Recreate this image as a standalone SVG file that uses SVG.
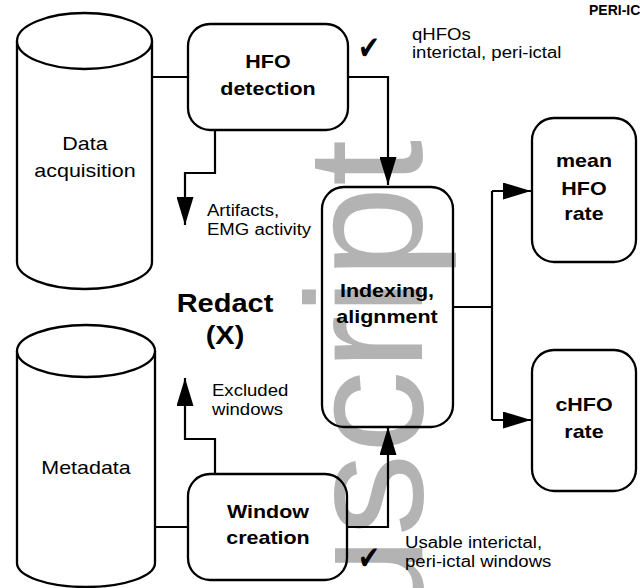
<svg xmlns="http://www.w3.org/2000/svg" width="640" height="588" viewBox="0 0 640 588">
  <style>
    .shape { fill: none; stroke: #000; stroke-width: 2.3; }
    .cyl { fill: #fff; stroke: #000; stroke-width: 2.3; }
    .wire { fill: none; stroke: #000; stroke-width: 2.2; }
    .t { font-family: "Liberation Sans", Arial, Helvetica, sans-serif; fill: #000; }
    .big { font-size: 18.5px; }
    .small { font-size: 16px; }
    .b { font-weight: bold; }
    .mid { text-anchor: middle; }
    .check { font-family: "DejaVu Sans", sans-serif; font-size: 26px; fill: #000; }
    .mark { font-family: "Liberation Sans", Arial, sans-serif; font-size: 166px; fill: #b3b3b3; }
  </style>
  <defs>
    <marker id="head" markerUnits="userSpaceOnUse" markerWidth="28" markerHeight="17" refX="28" refY="8.5" orient="auto">
      <path d="M0,0 L28,8.5 L0,17 Z" fill="#000"/>
    </marker>
  </defs>

  <rect width="640" height="588" fill="#fff"/>

  <!-- watermark behind everything -->
  <text class="mark" text-anchor="end" transform="translate(422 140) rotate(-90)">Manuscript</text>

  <!-- connectors -->
  <g id="connectors">
    <path class="wire" d="M152,77 H188"/>
    <path class="wire" d="M348,77 H388 V185" marker-end="url(#head)"/>
    <path class="wire" d="M215,130 V173 H185 V225" marker-end="url(#head)"/>
    <path class="wire" d="M155,527 H188"/>
    <path class="wire" d="M215,474 V439 H185 V378" marker-end="url(#head)"/>
    <path class="wire" d="M347,527 H388 V427" marker-end="url(#head)"/>
    <path class="wire" d="M453,307 H492"/>
    <path class="wire" d="M492,191 V420"/>
    <path class="wire" d="M492,191 H531" marker-end="url(#head)"/>
    <path class="wire" d="M492,420 H531" marker-end="url(#head)"/>
  </g>

  <!-- data acquisition store -->
  <g id="data-acquisition">
    <path class="cyl" d="M17,41 V262 A67.5,27 0 0 0 152,262 V41"/>
    <ellipse class="cyl" cx="84.5" cy="41" rx="67.5" ry="28"/>
    <text class="t big mid" transform="translate(85 150) scale(1.16 1)">Data</text>
    <text class="t big mid" transform="translate(85 177) scale(1.16 1)">acquisition</text>
  </g>

  <!-- metadata store -->
  <g id="metadata">
    <path class="cyl" d="M17,351 V563 A69,24 0 0 0 155,563 V351"/>
    <ellipse class="cyl" cx="86" cy="351" rx="69" ry="26"/>
    <text class="t big mid" transform="translate(86 474) scale(1.16 1)">Metadata</text>
  </g>

  <g id="hfo-detection">
    <rect class="shape" x="188" y="24" width="160" height="106" rx="22"/>
    <text class="t big b mid" transform="translate(268 68) scale(1.16 1)">HFO</text>
    <text class="t big b mid" transform="translate(268 95) scale(1.16 1)">detection</text>
  </g>

  <g id="indexing">
    <rect class="shape" x="322" y="187" width="131" height="240" rx="22"/>
    <text class="t big b mid" transform="translate(387 297) scale(1.16 1)">Indexing,</text>
    <text class="t big b mid" transform="translate(387 323) scale(1.16 1)">alignment</text>
  </g>

  <g id="mean-rate">
    <rect class="shape" x="532" y="118" width="104" height="144" rx="22"/>
    <text class="t big b mid" transform="translate(584 167) scale(1.16 1)">mean</text>
    <text class="t big b mid" transform="translate(584 195) scale(1.16 1)">HFO</text>
    <text class="t big b mid" transform="translate(584 220) scale(1.16 1)">rate</text>
  </g>

  <g id="chfo-rate">
    <rect class="shape" x="532" y="350" width="104" height="141" rx="22"/>
    <text class="t big b mid" transform="translate(584 411) scale(1.16 1)">cHFO</text>
    <text class="t big b mid" transform="translate(584 438) scale(1.16 1)">rate</text>
  </g>

  <g id="window-creation">
    <rect class="shape" x="188" y="474" width="159" height="106" rx="22"/>
    <text class="t big b mid" transform="translate(268 518) scale(1.16 1)">Window</text>
    <text class="t big b mid" transform="translate(268 544) scale(1.16 1)">creation</text>
  </g>

  <!-- annotations -->
  <g id="annotations">
    <text class="check" transform="translate(358 59) scale(1 1.25)">✔</text>
    <text class="t small" transform="translate(412 40) scale(1.16 1)">qHFOs</text>
    <text class="t small" transform="translate(412 58) scale(1.16 1)">interictal, peri-ictal</text>
    <text class="t small" transform="translate(207 216) scale(1.16 1)">Artifacts,</text>
    <text class="t small" transform="translate(207 235) scale(1.16 1)">EMG activity</text>
    <text class="t small" transform="translate(212 396) scale(1.16 1)">Excluded</text>
    <text class="t small" transform="translate(212 415) scale(1.16 1)">windows</text>
    <text class="check" transform="translate(358 569) scale(1 1.25)">✔</text>
    <text class="t small" transform="translate(405 548) scale(1.16 1)">Usable interictal,</text>
    <text class="t small" transform="translate(405 567) scale(1.16 1)">peri-ictal windows</text>
    <text class="t b" font-size="25" text-anchor="middle" transform="translate(225 312) scale(1.16 1)">Redact</text>
    <text class="t b" font-size="25" text-anchor="middle" transform="translate(225 344) scale(1.16 1)">(X)</text>
    <text class="t b" font-size="14" transform="translate(589 15)">PERI-IC</text>
  </g>
</svg>
